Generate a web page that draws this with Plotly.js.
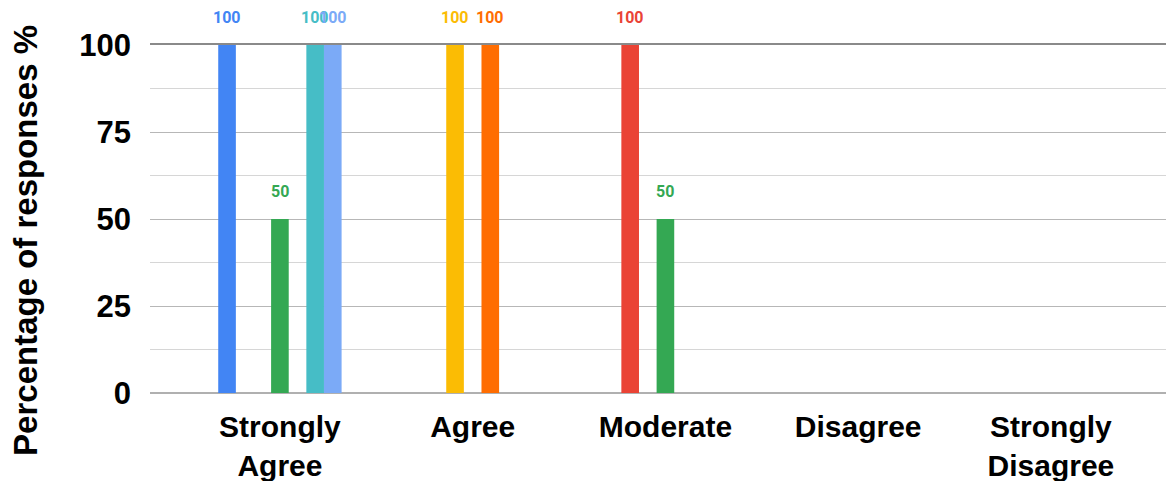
<!DOCTYPE html>
<html>
<head>
<meta charset="utf-8">
<script src="https://cdn.plot.ly/plotly-3.0.1.min.js"></script>
<style>html,body{margin:0;padding:0;background:#fff;}#chart{width:1169px;height:481px;}</style>
</head>
<body>
<div id="chart"></div>
<script>
const categories = ['Strongly<br>Agree', 'Agree', 'Moderate', 'Disagree', 'Strongly<br>Disagree'];
const seriesBlue = [100, 0, 0, 0, 0];
const seriesRed = [0, 0, 100, 0, 0];
const seriesYellow = [0, 100, 0, 0, 0];
const seriesGreen = [50, 0, 50, 0, 0];
const seriesOrange = [0, 100, 0, 0, 0];
const seriesTeal = [100, 0, 0, 0, 0];
const seriesLightBlue = [100, 0, 0, 0, 0];
const yTickVals = [0, 25, 50, 75, 100];
const yTitle = 'Percentage of responses %';

const series = [
  {name: 'S1', values: seriesBlue, color: '#4285F4'},
  {name: 'S2', values: seriesRed, color: '#EA4335'},
  {name: 'S3', values: seriesYellow, color: '#FBBC04'},
  {name: 'S4', values: seriesGreen, color: '#34A853'},
  {name: 'S5', values: seriesOrange, color: '#FF6D01'},
  {name: 'S6', values: seriesTeal, color: '#46BDC6'},
  {name: 'S7', values: seriesLightBlue, color: '#7BAAF7'}
];

const BARGAP = 0.36;
const groupWidth = 1 - BARGAP;
const slot = groupWidth / series.length;

const traces = series.map(s => ({
  type: 'bar',
  name: s.name,
  x: categories,
  y: s.values,
  marker: {color: s.color},
  hoverinfo: 'none'
}));

traces.push({type: 'scatter', x: [], y: [], xaxis: 'x2', showlegend: false});

const annotations = [];
series.forEach((s, j) => {
  s.values.forEach((v, i) => {
    if (!v) return;
    annotations.push({
      xref: 'x', yref: 'y',
      x: i - groupWidth / 2 + (j + 0.5) * slot,
      y: v,
      text: String(v),
      showarrow: false,
      xanchor: 'center', yanchor: 'bottom',
      yshift: 16,
      font: {family: 'Roboto', size: 16, color: s.color, weight: 'bold'}
    });
  });
});

annotations.push({
  xref: 'paper', yref: 'paper',
  x: 0, y: 0.437,
  xanchor: 'center', yanchor: 'middle',
  xshift: -124,
  textangle: -90,
  text: yTitle,
  showarrow: false,
  font: {family: 'Liberation Sans, Arial', size: 33, weight: 'bold', color: '#000'}
});

const layout = {
  width: 1169, height: 481,
  margin: {l: 150, r: 3, t: 45, b: 88},
  paper_bgcolor: '#fff', plot_bgcolor: '#fff',
  showlegend: false,
  barmode: 'group',
  bargap: BARGAP,
  bargroupgap: 0,
  font: {family: 'Liberation Sans, Arial', color: '#000'},
  annotations: annotations,
  xaxis: {
    range: [-0.674, 4.597],
    showgrid: false, zeroline: false, showline: false,
    tickfont: {family: 'Liberation Sans, Arial', size: 30, weight: 'bold', color: '#000'},
    ticks: '', ticklabelstandoff: 13
  },
  xaxis2: {
    overlaying: 'x', side: 'top', matches: 'x',
    showline: true, linecolor: '#8a8a8a', linewidth: 2,
    showticklabels: false, showgrid: false, zeroline: false, ticks: ''
  },
  yaxis: {
    range: [0, 100],
    tickvals: yTickVals,
    ticktext: yTickVals.map(String),
    showgrid: true, gridcolor: '#b7b7b7', gridwidth: 1,
    zeroline: true, zerolinecolor: '#b0b0b0', zerolinewidth: 2,
    minor: {dtick: 12.5, tick0: 0, showgrid: true, gridcolor: '#d6d6d6', gridwidth: 1},
    tickfont: {family: 'Liberation Sans, Arial', size: 31, weight: 'bold', color: '#000'},
    ticks: '', ticklabelstandoff: 18
  }
};

Plotly.newPlot('chart', traces, layout, {displayModeBar: false, staticPlot: true});
</script>
</body>
</html>
